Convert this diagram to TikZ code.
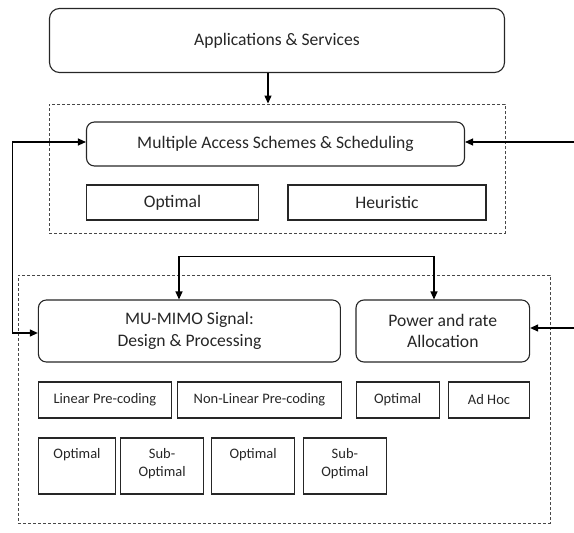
\documentclass[tikz,border=0pt]{standalone}
\usepackage{fontspec}
\setmainfont{Carlito}
\usetikzlibrary{arrows.meta}
\definecolor{ink}{HTML}{262626}
\begin{document}
\begin{tikzpicture}[x=1pt,y=-1pt,
  line width=1.1pt,
  every node/.style={text=ink},
  bigfont/.style={font=\fontsize{17.6}{21.7}\selectfont},
  smallfont/.style={font=\fontsize{14.5}{18.3}\selectfont},
  rbox/.style={draw=ink, rounded corners=8pt, inner sep=0pt, align=center, bigfont},
  sbox/.style={draw=ink, inner sep=0pt, align=center, smallfont},
  dbox/.style={draw=ink!85, dash pattern=on 3pt off 2pt, line width=0.9pt, inner sep=0pt},
  txt/.style={inner sep=0pt, align=center, anchor=north, smallfont},
  conn/.style={draw=black, line width=1.2pt},
  tip/.style={-{Triangle[length=8pt,width=7pt]}},
  tips/.style={{Triangle[length=8pt,width=7pt]}-{Triangle[length=8pt,width=7pt]}}
]
\useasboundingbox (0,0) rectangle (574,533);

% dashed groups
\node[dbox, minimum width=456pt, minimum height=129pt] (g1) at (277,168.5) {};
\node[dbox, minimum width=532pt, minimum height=248pt] (g2) at (284,399) {};

% top
\node[rbox, minimum width=455pt, minimum height=64pt, rounded corners=10pt] (apps) at (277,40.5) {Applications \& Services};

% multiple access
\node[rbox, minimum width=378pt, minimum height=44pt] (ma) at (275.5,144) {Multiple Access Schemes \& Scheduling};
\node[sbox, bigfont, minimum width=172pt, minimum height=35pt] (opt1) at (172.5,202.5) {Optimal};
\node[sbox, bigfont, minimum width=198pt, minimum height=35pt] (heur) at (387,202.5) {Heuristic};

% MU-MIMO and power
\node[rbox, minimum width=302pt, minimum height=62pt] (mu) at (189.4,331) {MU-MIMO Signal:\\Design \& Processing};
\node[rbox, minimum width=173.6pt, minimum height=62pt] (pw) at (442.8,331) {Power and rate\\Allocation};

% row 2
\node[sbox, minimum width=133pt, minimum height=36pt] (lin) at (104.85,400) {Linear Pre-coding};
\node[sbox, minimum width=164pt, minimum height=36pt] (nlin) at (259.5,400) {Non-Linear Pre-coding};
\node[sbox, minimum width=83pt, minimum height=36pt] (opt2) at (397.6,400) {Optimal};
\node[sbox, minimum width=81pt, minimum height=36pt] (adhoc) at (489,400) {Ad Hoc};

% row 3
\node[sbox, minimum width=77.3pt, minimum height=56pt] (o3a) at (77,466) {};
\node[sbox, minimum width=82.7pt, minimum height=56pt] (s3a) at (162.1,466) {};
\node[sbox, minimum width=83pt, minimum height=56pt] (o3b) at (253.1,466) {};
\node[sbox, minimum width=83pt, minimum height=56pt] (s3b) at (344.9,466) {};
\node[txt] (o3at) at ([yshift=-10pt]o3a.north) {Optimal};
\node[txt] (s3at) at ([yshift=-10pt]s3a.north) {Sub-\\Optimal};
\node[txt] (o3bt) at ([yshift=-10pt]o3b.north) {Optimal};
\node[txt] (s3bt) at ([yshift=-10pt]s3b.north) {Sub-\\Optimal};

% connectors
\coordinate (c1) at (268,0);
\draw[conn, tip] (apps.south -| c1) -- (g1.north -| c1);

\coordinate (L) at (12.7,0);
\draw[conn, tips] ([yshift=2pt]ma.west) -- ([yshift=2pt]ma.west -| L) |- ([yshift=-2pt]mu.west);

\coordinate (R1) at (574,142);
\draw[conn, tip] (R1) -- (R1 -| ma.east);
\coordinate (R2) at (574,328);
\draw[conn, tip] (R2) -- (R2 -| pw.east);

\coordinate (tl) at (179,256.7);
\coordinate (tr) at (434,256.7);
\draw[conn, tips] (tl |- mu.north) -- (tl) -- (tr) -- (tr |- pw.north);
\end{tikzpicture}
\end{document}
